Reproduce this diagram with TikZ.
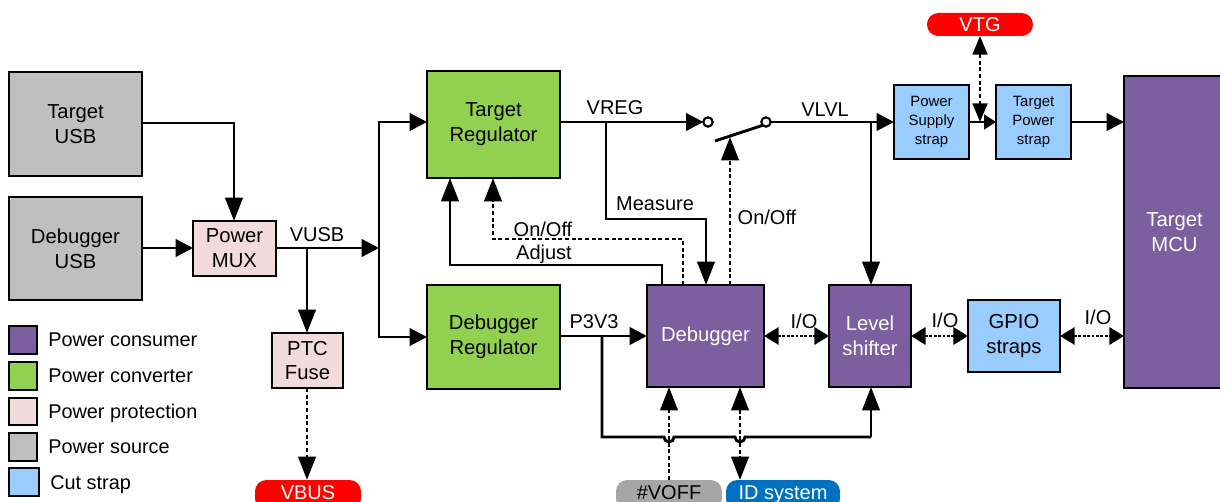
\documentclass[tikz,border=0pt]{standalone}
\usepackage{fontspec}
\setmainfont{Liberation Sans}
\usetikzlibrary{arrows.meta,calc}
\definecolor{cons}{HTML}{7B5F9E}
\definecolor{conv}{HTML}{92D050}
\definecolor{prot}{HTML}{F2DCDB}
\definecolor{src}{HTML}{BFBFBF}
\definecolor{strap}{HTML}{99CCFF}
\definecolor{pillred}{HTML}{FF0000}
\definecolor{pillgrey}{HTML}{A6A6A6}
\definecolor{pillblue}{HTML}{0070C0}
\tikzset{
  x=0.75pt,y=-0.75pt,
  vtip/.tip={Triangle[length=17.5pt,width=13pt]},
  htip/.tip={Triangle[length=13pt,width=13pt]},
  iotip/.tip={Triangle[length=11pt,width=13pt]},
  blockbox/.style={draw=black,line width=2.2pt,align=center,inner sep=0pt,outer sep=0pt,font=\fontsize{15.2}{18.7}\selectfont},
  smallbox/.style={blockbox,font=\fontsize{11.2}{14.2}\selectfont},
  pill/.style={rounded corners=8.5pt,inner sep=0pt,outer sep=0pt,font=\fontsize{15}{17}\selectfont,align=center},
  wirev/.style={line width=2.2pt,-vtip},
  wireh/.style={line width=2.2pt,-htip},
  plainwire/.style={line width=2.2pt},
  buswire/.style={line width=2.2pt},
  wirethin/.style={line width=2pt,-{Triangle[length=9pt,width=11pt]}},
  dashwire/.style={line width=2.2pt,dash pattern=on 3pt off 2pt,-vtip},
  dashboth/.style={line width=2.2pt,dash pattern=on 3pt off 2pt,vtip-vtip},
  dashbothsmall/.style={line width=1.8pt,dash pattern=on 2pt off 1.3pt,iotip-iotip},
  lab/.style={inner sep=0pt,font=\fontsize{15}{17}\selectfont},
  legendtext/.style={inner sep=0pt,anchor=base west,font=\fontsize{14.9}{17}\selectfont},
  ring/.style={circle,draw=black,line width=1.6pt,fill=white,minimum size=7pt,inner sep=0pt,outer sep=0pt},
}
\newcommand{\bx}[7]{\node[#1,fill=#2,minimum width=#5*0.75pt-#3*0.75pt,minimum height=#6*0.75pt-#4*0.75pt,anchor=north west] (#7) at (#3,#4)}
\begin{document}
\begin{tikzpicture}
\useasboundingbox (0,0) rectangle (1220,502);
\bx{blockbox}{src}{9}{72}{142}{176}{tusb} {Target\\USB};
\bx{blockbox}{src}{9}{197}{142}{300}{dusb} {Debugger\\USB};
\bx{blockbox}{prot}{193}{221}{276}{276}{mux} {Power\\MUX};
\bx{blockbox}{prot}{272}{333}{343}{388}{ptc} {PTC\\Fuse};
\bx{blockbox}{conv}{427}{71}{560}{178}{treg} {Target\\Regulator};
\bx{blockbox}{conv}{427}{285}{560}{389}{dreg} {Debugger\\Regulator};
\bx{blockbox,text=white}{cons}{647}{285}{764}{387}{dbg} {Debugger};
\bx{blockbox,text=white}{cons}{829}{285}{911}{387}{lvl} {Level\\shifter};
\bx{blockbox}{strap}{968}{300}{1060}{372}{gpio} {GPIO\\straps};
\bx{smallbox}{strap}{894}{85}{969}{159}{pss} {Power\\Supply\\strap};
\bx{smallbox}{strap}{996}{85}{1071}{159}{tps} {Target\\Power\\strap};
\bx{blockbox,text=white}{cons}{1124}{76}{1225}{388}{mcu} {Target\\MCU};
\bx{pill,text=white}{pillred}{927}{13}{1033}{36}{vtg} {VTG};
\bx{pill,text=white}{pillred}{255}{480}{361}{510}{vbus} {\raisebox{3.5pt}{VBUS}};
\bx{pill}{pillgrey}{616}{480}{722}{510}{voff} {\raisebox{3.5pt}{\#VOFF}};
\bx{pill,text=white}{pillblue}{726}{480}{840}{510}{ids} {\raisebox{3.5pt}{ID system}};
% free coordinates
\coordinate (vusb) at (379,248);
\coordinate (lever) at (715,141);
\node[ring] (ra) at (708,122) {};
\node[ring] (rb) at (766,122) {};
% connectors
\draw[wirev] (tusb.east |- 0,123) -| (mux.north -| 234,0);
\draw[wireh] (dusb.east |- 0,248) -- (mux.west |- 0,248);
\draw[wireh] (mux.east |- 0,248) -- (vusb);
\draw[wirev] (307,248) -- (ptc.north -| 307,0);
\draw[plainwire] (379,121) -- (379,338);
\draw[wireh] (378,122) -- (treg.west |- 0,122);
\draw[wireh] (378,337) -- (dreg.west |- 0,337);
\draw[dashwire] (ptc.south -| 307,0) -- (vbus.north -| 307,0);
\draw[wireh] (treg.east |- 0,122) -- (ra.west);
\draw[plainwire] (rb.east) -- (871,122);
\draw[line width=2.2pt] (lever) -- (rb.south west);
\draw[wireh] (871,122) -- (pss.west |- 0,122);
\draw[wirev] (871,122) -- (lvl.north -| 871,0);
\draw[wirev] (606,122) -- (606,219) -- (706,219) -- (dbg.north -| 706,0);
\draw[wirev] (662,285) -- (662,265) -- (450,265) -- (450,178);
\draw[dashwire] (683,285) -- (683,239) -- (493,239) -- (493,178);
\draw[dashwire] (730,285) -- (730,137);
\draw[wireh] (dreg.east |- 0,336) -- (dbg.west |- 0,336);
\draw[buswire] (602,336) -- (602,437) -- (664,437) arc[start angle=180,end angle=0,radius=5] -- (735,437) arc[start angle=180,end angle=0,radius=5] -- (871,437);
\draw[wirev] (871,437) -- (lvl.south -| 871,0);
\draw[dashwire] (669,480) -- (669,387);
\draw[dashboth] (dbg.south -| 740,0) -- (ids.north -| 740,0);
\draw[dashbothsmall] (dbg.east |- 0,336) -- (lvl.west |- 0,336);
\draw[dashbothsmall] (lvl.east |- 0,336) -- (gpio.west |- 0,336);
\draw[dashbothsmall] (gpio.east |- 0,336) -- (mcu.west |- 0,336);
\draw[wirethin] (pss.east |- 0,122) -- (tps.west |- 0,122);
\draw[dashwire,{Triangle[length=14pt,width=11pt]}-{Triangle[length=14pt,width=11pt]}] (980,36) -- (980,122);
\draw[wireh] (tps.east |- 0,122) -- (mcu.west |- 0,122);
% labels
\node[lab] (l1) at (317,235) {VUSB};
\node[lab] (l2) at (615,108) {VREG};
\node[lab] (l3) at (825,110) {VLVL};
\node[lab] (l4) at (655,204) {Measure};
\node[lab] (l5) at (543,229) {On/Off};
\node[lab] (l6) at (544,254) {Adjust};
\node[lab] (l7) at (767,217) {On/Off};
\node[lab] (l8) at (594,322) {P3V3};
\node[lab] (l9) at (804,321) {I/O};
\node[lab] (l10) at (945,320) {I/O};
\node[lab] (l11) at (1098,317) {I/O};
% legend
\bx{blockbox}{cons}{9}{326}{37}{354}{k1} {};
\bx{blockbox}{conv}{9}{362}{37}{390}{k2} {};
\bx{blockbox}{prot}{9}{398}{37}{425}{k3} {};
\bx{blockbox}{src}{9}{433}{37}{461}{k4} {};
\bx{blockbox}{strap}{9}{468}{39}{496}{k5} {};
\node[legendtext] (t1) at (48,346) {Power consumer};
\node[legendtext] (t2) at (48,382) {Power converter};
\node[legendtext] (t3) at (48,418) {Power protection};
\node[legendtext] (t4) at (48,453) {Power source};
\node[legendtext] (t5) at (50,489) {Cut strap};
\end{tikzpicture}
\end{document}
